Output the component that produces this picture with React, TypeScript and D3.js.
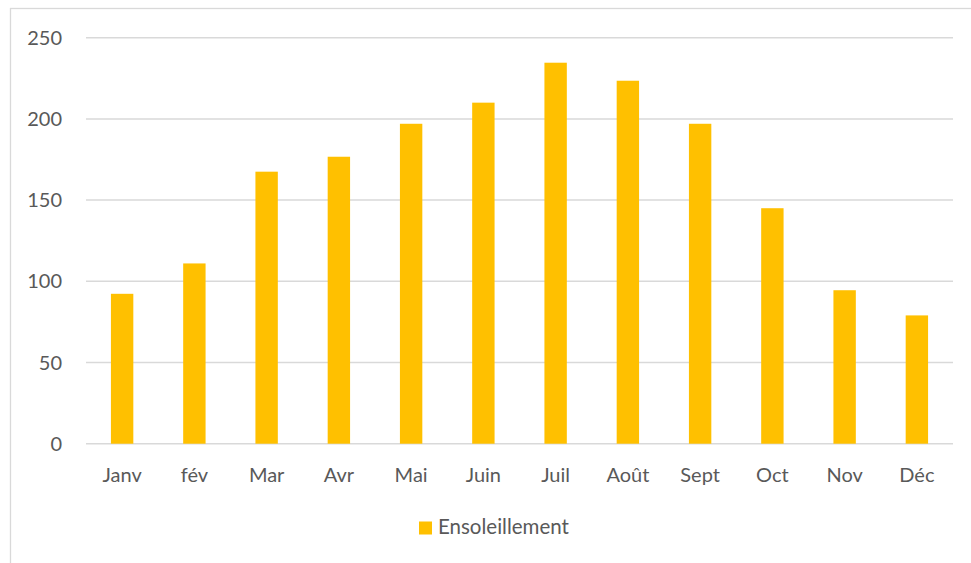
import React, { useEffect, useRef } from 'react'
import * as d3 from 'd3'

const months = ['Janv', 'fév', 'Mar', 'Avr', 'Mai', 'Juin', 'Juil', 'Août', 'Sept', 'Oct', 'Nov', 'Déc']
const sunshine = [92.3, 111, 167.5, 176.7, 197, 210, 234.6, 223.5, 197, 145, 94.5, 79]
const yTicks = [0, 50, 100, 150, 200, 250]
const seriesName = 'Ensoleillement'

const W = 971
const H = 563
const FONT = 'Lato, "Open Sans", sans-serif'

const App = () => {
  const svgRef = useRef<SVGSVGElement>(null)

  useEffect(() => {
    const svg = d3.select(svgRef.current)
    svg.selectAll('*').remove()

    const x = d3.scaleBand<string>().domain(months).range([86, 953]).paddingInner(0.69).paddingOuter(0.345)
    const y = d3.scaleLinear().domain([0, 250]).range([443.7, 37.7])

    // chart frame
    svg.append('rect')
      .attr('x', 10.5).attr('y', 8.5)
      .attr('width', W + 20).attr('height', H + 20)
      .attr('fill', 'white')
      .attr('stroke', '#d9d9d9')
      .attr('stroke-width', 1.3)

    // gridlines
    svg.append('g')
      .selectAll('line')
      .data(yTicks)
      .join('line')
      .attr('x1', 86).attr('x2', 953)
      .attr('y1', d => y(d)).attr('y2', d => y(d))
      .attr('stroke', '#d9d9d9')
      .attr('stroke-width', 1.5)

    // y labels
    svg.append('g')
      .selectAll('text')
      .data(yTicks)
      .join('text')
      .attr('x', 62)
      .attr('y', d => y(d) + 7)
      .attr('text-anchor', 'end')
      .attr('font-family', FONT)
      .attr('font-size', 20)
      .attr('fill', '#595959')
      .text(d => d)

    // bars
    svg.append('g')
      .selectAll('rect')
      .data(sunshine)
      .join('rect')
      .attr('x', (_, i) => x(months[i])!)
      .attr('width', x.bandwidth())
      .attr('y', d => y(d))
      .attr('height', d => y(0) - y(d))
      .attr('fill', '#ffc000')

    // x labels
    svg.append('g')
      .selectAll('text')
      .data(months)
      .join('text')
      .attr('x', d => x(d)! + x.bandwidth() / 2)
      .attr('y', 482)
      .attr('text-anchor', 'middle')
      .attr('font-family', FONT)
      .attr('font-size', 20)
      .attr('fill', '#595959')
      .text(d => d)

    // legend
    svg.append('rect')
      .attr('x', 419).attr('y', 521.5)
      .attr('width', 13).attr('height', 13)
      .attr('fill', '#ffc000')
    svg.append('text')
      .attr('x', 438).attr('y', 534)
      .attr('font-family', FONT)
      .attr('font-size', 20.5)
      .attr('fill', '#595959')
      .text(seriesName)
  }, [])

  return (
    <svg ref={svgRef} width={W} height={H}
      style={{ position: 'absolute', left: 0, top: 0, background: 'white' }} />
  )
}

export default App
